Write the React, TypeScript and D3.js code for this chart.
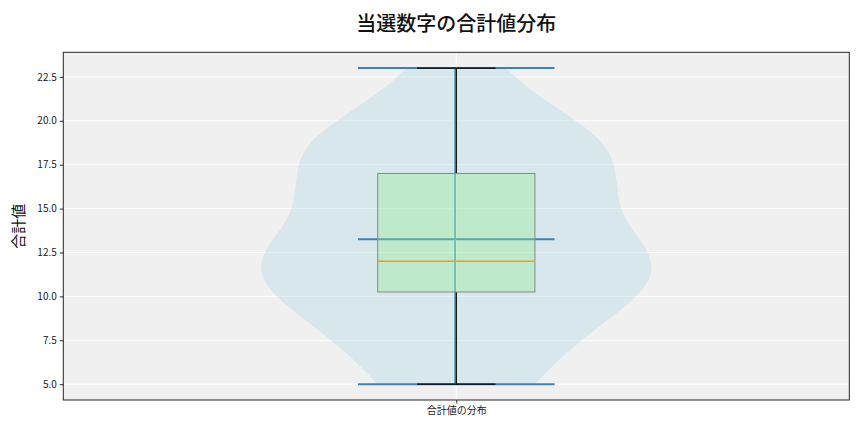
import { useEffect, useRef } from 'react';
import * as d3 from 'd3';

const categories = ['合計値の分布'];
const yTicks = [5, 7.5, 10, 12.5, 15, 17.5, 20, 22.5];

// box stats
const boxMin = [5];
const boxQ1 = [10.25];
const boxMedian = [12];
const boxQ3 = [17];
const boxMax = [23];
const violinMean = [13.25];

// violin outline: value -> relative density (1 = widest)
const violinValues = [5, 5.7, 6.7, 7.6, 8.6, 9.5, 10.5, 11.4, 12.4, 13.3, 14.25, 15.2, 16.15, 17.1, 18.0, 19.0, 19.9, 20.9, 21.8, 23];
const violinDensity = [0.4, 0.46, 0.55, 0.65, 0.76, 0.87, 0.96, 1.0, 0.985, 0.93, 0.865, 0.83, 0.82, 0.81, 0.79, 0.73, 0.62, 0.49, 0.37, 0.25];

const FONT = '"Noto Sans CJK JP", "Noto Sans", sans-serif';

export default function App() {
  const svgRef = useRef<SVGSVGElement>(null);

  useEffect(() => {
    const svgEl = svgRef.current;
    if (!svgEl) return;
    const width = 864, height = 432;
    const margin = { top: 52.3, right: 14.7, bottom: 32, left: 63.3 };
    const svg = d3.select(svgEl).attr('viewBox', `0 0 ${width} ${height}`);
    svg.selectAll('*').remove();

    const x = d3.scaleLinear().domain([0.5, 1.5]).range([margin.left, width - margin.right]);
    const y = d3.scaleLinear().domain([4.1, 23.9]).range([height - margin.bottom, margin.top]);
    const [x0, x1] = x.range();
    const [yb, yt] = y.range();

    // background
    svg.append('rect').attr('x', x0).attr('y', yt).attr('width', x1 - x0).attr('height', yb - yt).attr('fill', '#f0f0f0');

    // grid
    yTicks.forEach((t) => {
      svg.append('line').attr('x1', x0).attr('x2', x1).attr('y1', y(t)).attr('y2', y(t))
        .attr('stroke', '#ffffff').attr('stroke-width', 1);
    });
    categories.forEach((_, i) => {
      svg.append('line').attr('x1', x(i + 1)).attr('x2', x(i + 1)).attr('y1', yt).attr('y2', yb)
        .attr('stroke', '#ffffff').attr('stroke-width', 1);
    });

    categories.forEach((_, i) => {
      const pos = i + 1;
      const vw = 0.5; // violin width
      const bw = 0.2; // box width

      // violin body
      const pts = violinValues.map((v, k) => [v, violinDensity[k]] as [number, number]);
      const area = d3.area<[number, number]>()
        .y((d) => y(d[0]))
        .x0((d) => x(pos - (vw / 2) * d[1]))
        .x1((d) => x(pos + (vw / 2) * d[1]))
        .curve(d3.curveBasis);
      svg.append('path').datum(pts).attr('d', area)
        .attr('fill', '#add8e6').attr('fill-opacity', 0.35).attr('stroke', 'none');

      // violin extrema, bar and mean
      const blue = '#3f80b5';
      [boxMin[i], boxMax[i], violinMean[i]].forEach((v) => {
        svg.append('line').attr('x1', x(pos - vw / 4)).attr('x2', x(pos + vw / 4))
          .attr('y1', y(v)).attr('y2', y(v)).attr('stroke', blue).attr('stroke-width', 2);
      });
      svg.append('line').attr('x1', x(pos) - 1.2).attr('x2', x(pos) - 1.2)
        .attr('y1', y(boxMin[i])).attr('y2', y(boxMax[i]))
        .attr('stroke', '#5aa0d0').attr('stroke-width', 1.8);

      // whiskers
      [[boxMin[i], boxQ1[i]], [boxQ3[i], boxMax[i]]].forEach(([a, b]) => {
        svg.append('line').attr('x1', x(pos)).attr('x2', x(pos)).attr('y1', y(a)).attr('y2', y(b))
          .attr('stroke', '#000').attr('stroke-width', 1.2);
      });
      // caps
      [boxMin[i], boxMax[i]].forEach((v) => {
        svg.append('line').attr('x1', x(pos - bw / 4)).attr('x2', x(pos + bw / 4))
          .attr('y1', y(v)).attr('y2', y(v)).attr('stroke', '#000').attr('stroke-width', 1.2);
      });
      // box
      svg.append('rect')
        .attr('x', x(pos - bw / 2)).attr('width', x(pos + bw / 2) - x(pos - bw / 2))
        .attr('y', y(boxQ3[i])).attr('height', y(boxQ1[i]) - y(boxQ3[i]))
        .attr('fill', '#90ee90').attr('fill-opacity', 0.35)
        .attr('stroke', '#7f8d84').attr('stroke-width', 1);
      // median
      svg.append('line').attr('x1', x(pos - bw / 2)).attr('x2', x(pos + bw / 2))
        .attr('y1', y(boxMedian[i])).attr('y2', y(boxMedian[i]))
        .attr('stroke', '#f39a1e').attr('stroke-width', 1.4);
    });

    // frame
    svg.append('rect').attr('x', x0).attr('y', yt).attr('width', x1 - x0).attr('height', yb - yt)
      .attr('fill', 'none').attr('stroke', '#262626').attr('stroke-width', 1);

    // y axis
    const yAxis = d3.axisLeft(y).tickValues(yTicks).tickFormat((v) => (v as number).toFixed(1)).tickSize(3.5).tickPadding(3);
    const yg = svg.append('g').attr('transform', `translate(${x0},0)`).call(yAxis);
    yg.select('.domain').remove();
    yg.selectAll('line').attr('stroke', '#262626');
    yg.selectAll('text').attr('fill', '#222').attr('font-size', 10).attr('font-family', FONT);

    // x axis
    const xAxis = d3.axisBottom(x).tickValues(categories.map((_, i) => i + 1))
      .tickFormat((_, i) => categories[i]).tickSize(3.5).tickPadding(3);
    const xg = svg.append('g').attr('transform', `translate(0,${yb})`).call(xAxis);
    xg.select('.domain').remove();
    xg.selectAll('line').attr('stroke', '#262626');
    xg.selectAll('text').attr('fill', '#222').attr('font-size', 10).attr('font-family', FONT);

    // labels
    svg.append('text').attr('x', (x0 + x1) / 2).attr('y', 25.5).attr('dominant-baseline', 'middle')
      .attr('text-anchor', 'middle').attr('font-size', 20).attr('font-weight', 500)
      .attr('font-family', FONT).attr('fill', '#111').text('当選数字の合計値分布');
    svg.append('text').attr('transform', `translate(20,${(yt + yb) / 2}) rotate(-90)`)
      .attr('dominant-baseline', 'middle').attr('text-anchor', 'middle').attr('font-size', 15)
      .attr('font-family', FONT).attr('fill', '#111').text('合計値');
  }, []);

  return (
    <svg ref={svgRef} width={864} height={432}
      style={{ position: 'absolute', left: 0, top: 0, background: '#fff' }} />
  );
}
